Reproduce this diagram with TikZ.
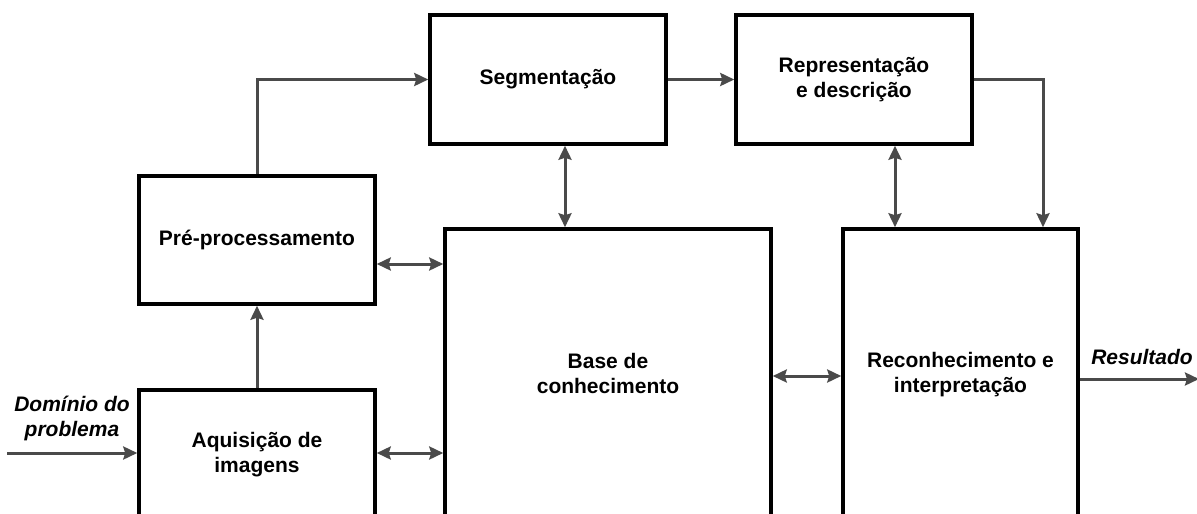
\documentclass[tikz,border=0pt]{standalone}
\usepackage{fontspec}
\setmainfont{Liberation Sans}
\usetikzlibrary{arrows.meta}
\definecolor{linegray}{HTML}{4A4A4A}
\begin{document}
\begin{tikzpicture}[x=1pt,y=-1pt,
    bloco/.style={draw=black, line width=3.5pt, inner sep=0pt, align=center,
      font=\fontsize{21}{25}\selectfont\bfseries},
    seta/.style={draw=linegray, line width=3pt, -{Stealth[length=14pt,width=13pt,inset=2pt]}},
    setadupla/.style={seta, {Stealth[length=14pt,width=13pt,inset=2pt]}-{Stealth[length=14pt,width=13pt,inset=2pt]}},
    rotulo/.style={align=center, font=\fontsize{21}{25}\selectfont\bfseries\itshape}]
  \useasboundingbox (0,0) rectangle (1197,514);
  \clip (0,0) rectangle (1197,514);
  % blocos
  \node[bloco, minimum width=236pt, minimum height=129pt] (seg) at (548,79.5) {Segmenta\c{c}\~ao};
  \node[bloco, minimum width=236pt, minimum height=129pt] (rep) at (854,79.5) {Representa\c{c}\~ao\\e descri\c{c}\~ao};
  \node[bloco, minimum width=236pt, minimum height=128pt] (pre) at (257,240) {Pr\'e-processamento};
  \node[bloco, minimum width=326pt, minimum height=288pt] (base) at (608,373) {Base de\\conhecimento};
  \node[bloco, minimum width=235pt, minimum height=292pt] (rec) at (960.5,375) {Reconhecimento e\\interpreta\c{c}\~ao};
  \node[bloco, minimum width=236pt, minimum height=129pt] (aq) at (257,454.5) {Aquisi\c{c}\~ao de\\imagens};
  \node[rotulo] (dom) at (72,418) {Dom\'inio do\\problema};
  \node[rotulo] (res) at (1142,357) {Resultado};
  % pontos auxiliares
  \coordinate (ent) at (7,453);
  \coordinate (sai) at (1199,379);
  \coordinate (xsb) at (565,0);
  \coordinate (xrr) at (895,0);
  \coordinate (xrd) at (1043,0);
  \coordinate (ypb) at (0,264);
  \coordinate (ybr) at (0,376);
  % setas
  \draw[seta] (ent) -- (aq.west |- ent);
  \draw[seta] (aq.north) -- (pre.south);
  \draw[seta] (pre.north) |- (seg.west);
  \draw[seta] (seg.east) -- (rep.west);
  \draw[seta] (rep.east) -| (rec.north -| xrd);
  \draw[seta] (rec.east |- sai) -- (sai);
  \draw[setadupla] (seg.south -| xsb) -- (base.north -| xsb);
  \draw[setadupla] (rep.south -| xrr) -- (rec.north -| xrr);
  \draw[setadupla] (pre.east |- ypb) -- (base.west |- ypb);
  \draw[setadupla] (aq.east |- ent) -- (base.west |- ent);
  \draw[setadupla] (base.east |- ybr) -- (rec.west |- ybr);
\end{tikzpicture}
\end{document}
